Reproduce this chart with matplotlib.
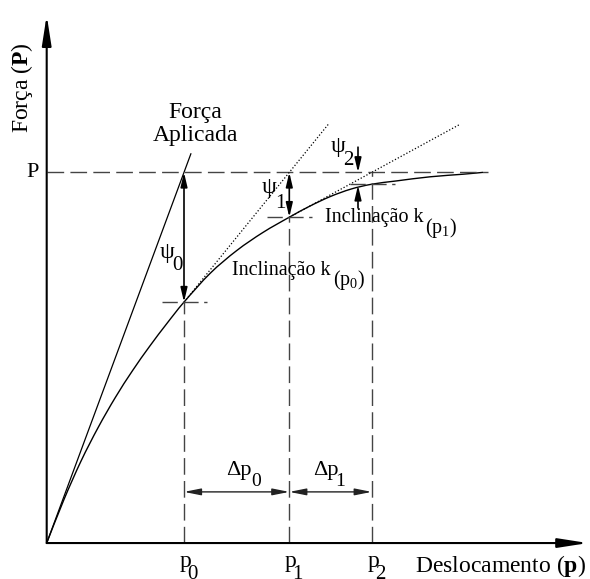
import matplotlib.pyplot as plt
from matplotlib.path import Path
from matplotlib.patches import PathPatch

plt.rcParams['font.family'] = 'Liberation Serif'
plt.rcParams['mathtext.fontset'] = 'custom'
plt.rcParams['mathtext.rm'] = 'Liberation Serif'
plt.rcParams['mathtext.bf'] = 'Liberation Serif:bold'
plt.rcParams['mathtext.it'] = 'Liberation Serif:italic'

# load-displacement response (force normalised so that P = 1)
curve_x = [0, 0.172, 0.343, 0.515, 0.687, 0.858, 1.03, 1.201, 1.373, 1.636,
           1.90, 2.163, 2.426, 2.632, 2.838, 3.044, 3.25, 3.50, 3.833, 4.163,
           4.363]
curve_y = [0, 0.117, 0.221, 0.312, 0.393, 0.465, 0.531, 0.592, 0.650, 0.728,
           0.789, 0.838, 0.879, 0.909, 0.935, 0.955, 0.968, 0.977, 0.988,
           0.995, 1.0]

P = 1.0
p_iter = [1.373, 2.426, 3.25]      # p0, p1, p2
f_iter = [0.650, 0.879, 0.968]     # internal force at p0, p1, p2
p_names = ['0', '1', '2']

DASH = (0, (12, 4.5))
GREY = '#444444'

fig = plt.figure(figsize=(5.9, 5.79), dpi=100)
ax = fig.add_axes([0, 0, 1, 1])
ax.set_xlim(-0.467, 5.433)
ax.set_ylim(-0.097, 1.465)
ax.axis('off')


def arrow(x0, y0, x1, y1, style='-|>', hl=0.85, hw=0.2, lw=1.0, color='k'):
    ax.annotate('', xy=(x1, y1), xytext=(x0, y0),
                arrowprops=dict(arrowstyle=f'{style},head_length={hl},head_width={hw}',
                                lw=lw, color=color, shrinkA=0, shrinkB=0,
                                mutation_scale=10))


def sub_label(x, y, main, sub, size, dx, dy, subsize):
    ax.text(x, y, main, fontsize=size, ha='center', va='center')
    ax.text(x + dx, y + dy, sub, fontsize=subsize, ha='center', va='center')


def smooth_path(xs, ys):
    # Catmull-Rom through the points, written as cubic Bezier segments
    pts = list(zip(xs, ys))
    n = len(pts)
    verts = [pts[0]]
    codes = [Path.MOVETO]
    for i in range(n - 1):
        a = pts[max(i - 1, 0)]
        b = pts[i]
        c = pts[i + 1]
        d = pts[min(i + 2, n - 1)]
        c1 = (b[0] + (c[0] - a[0]) / 6, b[1] + (c[1] - a[1]) / 6)
        c2 = (c[0] - (d[0] - b[0]) / 6, c[1] - (d[1] - b[1]) / 6)
        verts += [c1, c2, c]
        codes += [Path.CURVE4] * 3
    return Path(verts, codes)


# axes with arrow heads
arrow(0, 0, 0, 1.424, hl=1.8, hw=0.28, lw=1.5)
arrow(0, 0, 5.413, 0, hl=1.8, hw=0.28, lw=1.5)

# applied load level
ax.plot([0, 4.41], [P, P], color=GREY, lw=1.0, linestyle=DASH)

# initial stiffness line (applied force)
k0 = P / p_iter[0]
ax.plot([0, 1.05 / k0], [0, 1.05], color='k', lw=0.9)

# response curve
ax.add_patch(PathPatch(smooth_path(curve_x, curve_y), facecolor='none',
                       edgecolor='k', lw=1.0))

# tangent lines at p0 and p1
for i in range(2):
    k = (P - f_iter[i]) / (p_iter[i + 1] - p_iter[i])
    x_end = p_iter[i] + (1.13 - f_iter[i]) / k
    ax.plot([p_iter[i], x_end], [f_iter[i], 1.13], color='k', lw=0.9,
            linestyle=(0, (1, 1.6)))

# vertical guides down to the displacement axis
ax.plot([p_iter[0], p_iter[0]], [0, f_iter[0]], color=GREY, lw=1.0, linestyle=DASH)
ax.plot([p_iter[1], p_iter[1]], [0, f_iter[1]], color=GREY, lw=1.0, linestyle=DASH)
ax.plot([p_iter[2], p_iter[2]], [0, P], color=GREY, lw=1.0, linestyle=DASH)

# short horizontal marks at each equilibrium point
for x, y in zip(p_iter, f_iter):
    ax.plot([x - 0.22, x + 0.23], [y, y], color=GREY, lw=1.0, linestyle=(0, (11, 4)))

# unbalanced forces psi
arrow(p_iter[0], f_iter[0], p_iter[0], P, style='<|-|>', lw=1.2)
arrow(p_iter[1], f_iter[1], p_iter[1], P, style='<|-|>', lw=1.2)
arrow(3.113, 1.068, 3.113, P, lw=1.2)
arrow(3.113, 0.904, 3.113, 0.965, lw=1.2)

# displacement increments
dy_arrow = 0.138
arrow(p_iter[0], dy_arrow, p_iter[1], dy_arrow, style='<|-|>', hl=1.0, lw=1.0, color='#222222')
arrow(p_iter[1], dy_arrow, p_iter[2], dy_arrow, style='<|-|>', hl=1.0, lw=1.0, color='#222222')

# text
ax.text(-0.247, 1.230, r'Força ($\mathbf{P}$)', fontsize=17, rotation=90,
        ha='center', va='center')
ax.text(4.533, -0.062, r'Deslocamento ($\mathbf{p}$)', fontsize=17,
        ha='center', va='center')
ax.text(1.483, 1.130, 'Força\nAplicada', fontsize=17, ha='center', va='center',
        multialignment='center', linespacing=1.15)
ax.text(-0.137, P, 'P', fontsize=16, ha='center', va='center')

sub_label(1.208, 0.784, 'ψ', '0', 17, 0.095, -0.034, 15)
sub_label(2.223, 0.958, 'ψ', '1', 17, 0.11, -0.041, 15)
sub_label(2.913, 1.071, 'ψ', '2', 17, 0.10, -0.038, 15)

sub_label(1.923, 0.197, 'Δp', '0', 16, 0.17, -0.030, 14)
sub_label(2.793, 0.197, 'Δp', '1', 16, 0.14, -0.030, 14)

for x, n in zip(p_iter, p_names):
    sub_label(x + 0.015, -0.0486, 'p', n, 17, 0.07, -0.037, 15)

ax.text(1.853, 0.734, 'Inclinação k', fontsize=14.5, ha='left', va='center')
ax.text(2.863, 0.709, r'(p$_{\mathregular{0}}$)', fontsize=14.5, ha='left', va='center')
ax.text(2.783, 0.879, 'Inclinação k', fontsize=14.5, ha='left', va='center')
ax.text(3.783, 0.850, r'(p$_{\mathregular{1}}$)', fontsize=14.5, ha='left', va='center')

fig.savefig('out.png', dpi=100)
